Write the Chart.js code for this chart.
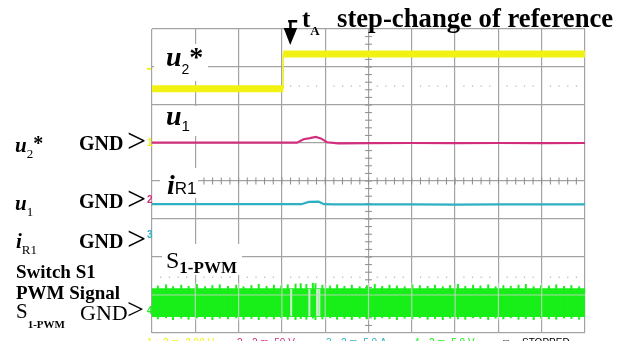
<!DOCTYPE html>
<html>
<head>
<meta charset="utf-8">
<script src="https://cdn.jsdelivr.net/npm/chart.js@4.4.1/dist/chart.umd.min.js"></script>
<style>
  html, body { margin: 0; padding: 0; background: #fff; }
  #wrap { width: 631px; height: 341px; position: relative; }
</style>
</head>
<body>
<div id="wrap"><canvas id="scope" width="631" height="341"></canvas></div>
<script>
// scope screen: 10 x 8 divisions
const divX = 10;
const divY = 8;
const stepTime = 3.03;          // tA, step of the reference
const cursorLevels = [6.5, 1.47];

// u2* (ch1, yellow)
const u2Time = [0, 3.03, 3.03, 10];
const u2Level = [6.43, 6.43, 7.34, 7.34];

// u1 (ch2, magenta)
const u1Time = [0, 1, 2, 3, 3.35, 3.5, 3.65, 3.78, 3.9, 4.04, 4.3, 5, 6, 7, 8, 9, 10];
const u1Level = [5.01, 5.01, 5.01, 5.01, 5.01, 5.1, 5.13, 5.16, 5.12, 5.02, 4.99, 4.995, 5.0, 4.995, 5.0, 4.995, 5.0];

// iR1 (ch3, cyan)
const iR1Time = [0, 1, 2, 3, 3.45, 3.62, 3.85, 3.97, 4.2, 5, 6, 7, 8, 9, 10];
const iR1Level = [3.39, 3.39, 3.39, 3.39, 3.39, 3.45, 3.455, 3.39, 3.385, 3.385, 3.385, 3.38, 3.385, 3.385, 3.385];

// S1-PWM (ch4, green): band edges + noise spikes
const pwmTime = [0, 10];
const pwmHigh = [1.18, 1.18];
const pwmLow = [0.42, 0.42];
const spikeTime = [0.12, 0.31, 0.47, 0.66, 0.83, 1.02, 1.21, 1.38, 1.55, 1.74, 1.93, 2.1, 2.28, 2.45, 2.63, 2.8, 2.97, 3.12, 3.3, 3.42, 3.55, 3.7, 3.76, 3.92, 4.1, 4.26, 4.43, 4.6, 4.78, 4.95, 5.13, 5.3, 5.47, 5.64, 5.82, 6.0, 6.17, 6.35, 6.52, 6.7, 6.87, 7.05, 7.22, 7.4, 7.57, 7.75, 7.92, 8.1, 8.27, 8.45, 8.62, 8.8, 8.97, 9.15, 9.32, 9.5, 9.67, 9.85];
const spikeHigh = [1.24, 1.27, 1.22, 1.26, 1.23, 1.28, 1.22, 1.25, 1.27, 1.23, 1.26, 1.22, 1.25, 1.28, 1.23, 1.26, 1.24, 1.27, 1.29, 1.3, 1.28, 1.31, 1.3, 1.26, 1.24, 1.27, 1.23, 1.26, 1.22, 1.25, 1.28, 1.23, 1.26, 1.24, 1.22, 1.27, 1.25, 1.23, 1.26, 1.22, 1.25, 1.28, 1.23, 1.26, 1.24, 1.27, 1.22, 1.25, 1.23, 1.26, 1.28, 1.22, 1.25, 1.24, 1.27, 1.23, 1.25, 1.22];
const spikeLow = [0.37, 0.4, 0.35, 0.39, 0.36, 0.4, 0.38, 0.35, 0.39, 0.37, 0.4, 0.36, 0.38, 0.35, 0.39, 0.37, 0.4, 0.36, 0.35, 0.38, 0.36, 0.39, 0.35, 0.37, 0.4, 0.36, 0.38, 0.35, 0.39, 0.37, 0.36, 0.4, 0.38, 0.35, 0.39, 0.37, 0.4, 0.36, 0.38, 0.35, 0.39, 0.37, 0.36, 0.4, 0.38, 0.35, 0.39, 0.37, 0.4, 0.36, 0.38, 0.35, 0.39, 0.37, 0.36, 0.4, 0.38, 0.36];
const gapTime = [3.23, 3.65, 3.83, 3.88];

const YEL = '#f2f212', MAG = '#d12f7e', CYA = '#2eb0c2', GRN = '#18ee18';
const SERIF = '"Liberation Serif", "Times New Roman", serif';
const SANS = '"Liberation Sans", Arial, sans-serif';

const pts = (xs, ys) => xs.map((x, i) => ({ x: x, y: ys[i] }));

function rich(ctx, x, y, parts, color) {
  ctx.fillStyle = color || '#000';
  ctx.textBaseline = 'alphabetic';
  ctx.textAlign = 'left';
  parts.forEach(p => {
    ctx.font = p.f;
    ctx.fillText(p.t, x, y + (p.dy || 0));
    x += ctx.measureText(p.t).width + (p.gap || 0);
  });
}

// labels inside the screen (on white boxes)
const screenLabels = [
  { box: [154, 44, 54, 37], x: 166, y: 66, parts: [
    { t: 'u', f: 'bold italic 28px ' + SERIF }, { t: '2', f: '14px ' + SANS, dy: 8 }, { t: '*', f: 'bold 28px ' + SERIF }] },
  { box: [156, 106, 42, 30], x: 166, y: 125, parts: [
    { t: 'u', f: 'bold italic 28px ' + SERIF }, { t: '1', f: '15px ' + SANS, dy: 6 }] },
  { box: [160, 168, 38, 30], x: 167, y: 194, parts: [
    { t: 'i', f: 'bold italic 28px ' + SERIF }, { t: 'R1', f: '17px ' + SANS }] },
  { box: [162, 244, 80, 31], x: 166, y: 268, parts: [
    { t: 'S', f: '24px ' + SERIF }, { t: '1-PWM', f: 'bold 17px ' + SERIF, dy: 5 }] }
];

// labels left of the screen and title
const sideLabels = [
  { x: 15, y: 152, parts: [{ t: 'u', f: 'bold italic 21px ' + SERIF }, { t: '2', f: '13px ' + SERIF, dy: 6 }, { t: '*', f: 'bold 20px ' + SERIF, dy: -2 }] },
  { x: 79, y: 150, parts: [{ t: 'GND ', f: 'bold 20px ' + SERIF }] },
  { x: 15, y: 210, parts: [{ t: 'u', f: 'bold italic 21px ' + SERIF }, { t: '1', f: '13px ' + SERIF, dy: 6 }] },
  { x: 79, y: 208, parts: [{ t: 'GND ', f: 'bold 20px ' + SERIF }] },
  { x: 16, y: 248, parts: [{ t: 'i', f: 'bold italic 21px ' + SERIF }, { t: 'R1', f: '13px ' + SERIF, dy: 6 }] },
  { x: 79, y: 248, parts: [{ t: 'GND ', f: 'bold 20px ' + SERIF }] },
  { x: 16, y: 278, parts: [{ t: 'Switch S1', f: 'bold 19px ' + SERIF }] },
  { x: 16, y: 299, parts: [{ t: 'PWM Signal', f: 'bold 19px ' + SERIF }] },
  { x: 16, y: 318, parts: [{ t: 'S', f: '21px ' + SERIF }, { t: '1-PWM', f: 'bold 11px ' + SERIF, dy: 10 }] },
  { x: 80, y: 320, parts: [{ t: 'GND', f: '22px ' + SERIF }] },
  { x: 337, y: 27, parts: [{ t: 'step-change of reference', f: 'bold 26.7px ' + SERIF }] },
  { x: 302, y: 27, parts: [{ t: 't', f: 'bold 25px ' + SERIF }, { t: 'A', f: 'bold 13px ' + SERIF, dy: 8 }] }
];
const arrows = [[127, 152, 34], [127, 210, 34], [127, 250, 34], [127, 319, 30]];

const statusLine = [
  { x: 147, t: '1', c: YEL }, { x: 163, t: '2 m  2.00 V', c: YEL },
  { x: 237, t: '2', c: MAG }, { x: 252, t: '2 m  50 V', c: MAG },
  { x: 326, t: '3', c: CYA }, { x: 341, t: '2 m  5.0 A', c: CYA },
  { x: 414, t: '4', c: GRN }, { x: 429, t: '2 m  5.0 V', c: GRN },
  { x: 503, t: '\u25a1', c: '#333' }, { x: 522, t: 'STOPPED', c: '#000' }
];
const chMarkers = [{ t: '1', y: 146, c: YEL }, { t: '2', y: 203, c: MAG }, { t: '3', y: 238, c: CYA }, { t: '4', y: 314, c: GRN }];

const scopeDecor = {
  id: 'scopeDecor',
  beforeDatasetsDraw(chart) {
    const { ctx, chartArea: a, scales: { x, y } } = chart;
    ctx.save();
    // minor ticks on the centre axes
    ctx.strokeStyle = '#8c8c8c';
    ctx.lineWidth = 1;
    const cy = y.getPixelForValue(divY / 2), cx = x.getPixelForValue(divX / 2);
    for (let i = 1; i < divX * 5; i++) {
      const px = x.getPixelForValue(i / 5);
      ctx.beginPath(); ctx.moveTo(px, cy - 3.5); ctx.lineTo(px, cy + 3.5); ctx.stroke();
    }
    for (let i = 1; i < divY * 5; i++) {
      const py = y.getPixelForValue(i / 5);
      ctx.beginPath(); ctx.moveTo(cx - 3.5, py); ctx.lineTo(cx + 3.5, py); ctx.stroke();
    }
    // dotted cursor levels
    ctx.fillStyle = '#b0b0b0';
    cursorLevels.forEach(lv => {
      const py = y.getPixelForValue(lv);
      for (let i = 1; i < divX * 5; i++) {
        if (i % 5 === 0) continue;
        ctx.fillRect(x.getPixelForValue(i / 5) - 0.5, py - 0.5, 1.2, 1.2);
      }
    });
    // screen labels
    screenLabels.forEach(l => {
      ctx.fillStyle = '#fff';
      ctx.fillRect(l.box[0], l.box[1], l.box[2], l.box[3]);
      rich(ctx, l.x, l.y, l.parts);
    });
    ctx.restore();
  },
  afterDatasetsDraw(chart) {
    // graticule shows through the PWM band
    const { ctx, chartArea: a, scales: { x, y } } = chart;
    ctx.save();
    const top = y.getPixelForValue(1.32), bot = y.getPixelForValue(0.32);
    ctx.beginPath(); ctx.rect(a.left, top, a.right - a.left, bot - top); ctx.clip();
    ctx.strokeStyle = 'rgba(200,215,200,0.85)';
    ctx.lineWidth = 1.2;
    for (let i = 1; i < divX; i++) {
      const px = x.getPixelForValue(i);
      ctx.beginPath(); ctx.moveTo(px, top); ctx.lineTo(px, bot); ctx.stroke();
    }
    const py = y.getPixelForValue(1);
    ctx.beginPath(); ctx.moveTo(a.left, py); ctx.lineTo(a.right, py); ctx.stroke();
    ctx.restore();
  },
  afterDraw(chart) {
    const { ctx, chartArea: a, scales: { x, y } } = chart;
    ctx.save();
    sideLabels.forEach(l => rich(ctx, l.x, l.y, l.parts));
    ctx.fillStyle = '#000';
    arrows.forEach(r => { ctx.font = r[2] + 'px ' + SERIF; ctx.fillText('>', r[0], r[1]); });
    // tA marker arrow
    const ax = x.getPixelForValue(stepTime) + 7;
    ctx.fillRect(ax - 1, 20, 2.5, 10);
    ctx.fillRect(ax - 2, 20, 9, 2.5);
    ctx.beginPath(); ctx.moveTo(ax - 6.5, 28); ctx.lineTo(ax + 7, 28); ctx.lineTo(ax, 45); ctx.closePath(); ctx.fill();
    // channel ground markers
    ctx.font = 'bold 10px ' + SANS;
    chMarkers.forEach(m => { ctx.fillStyle = m.c; ctx.fillText(m.t, a.left - 5, m.y); });
    ctx.fillStyle = YEL;
    ctx.fillRect(a.left - 5, y.getPixelForValue(6.95) - 1, 4, 2);
    // status line (cut by window bottom)
    ctx.font = '10px ' + SANS;
    statusLine.forEach(s => { ctx.fillStyle = s.c; ctx.fillText(s.t, s.x, 346); });
    ctx.restore();
  }
};

new Chart(document.getElementById('scope').getContext('2d'), {
  type: 'line',
  data: {
    datasets: [
      { label: 'u2*', data: pts(u2Time, u2Level), borderColor: YEL, borderWidth: 7, pointRadius: 0, order: 1,
        segment: { borderWidth: c => (c.p0.parsed.x === c.p1.parsed.x ? 1.5 : 7) } },
      { label: 'u1', data: pts(u1Time, u1Level), borderColor: MAG, borderWidth: 2.2, pointRadius: 0, order: 2 },
      { label: 'iR1', data: pts(iR1Time, iR1Level), borderColor: CYA, borderWidth: 2.2, pointRadius: 0, order: 3 },
      { label: 'pwmLow', data: pts(pwmTime, pwmLow), borderColor: GRN, borderWidth: 0, pointRadius: 0, order: 6 },
      { label: 'S1-PWM', data: pts(pwmTime, pwmHigh), borderColor: GRN, borderWidth: 0, pointRadius: 0,
        backgroundColor: GRN, fill: '-1', order: 5 },
      { type: 'bar', label: 'spikes', data: spikeTime.map((t, i) => ({ x: t, y: [spikeLow[i], spikeHigh[i]] })),
        backgroundColor: GRN, barThickness: 1.3, order: 4 },
      { type: 'bar', label: 'gaps', data: gapTime.map(t => ({ x: t, y: [0.45, 1.15] })),
        backgroundColor: 'rgba(225,235,225,0.9)', barThickness: 1.4, order: 0 }
    ]
  },
  options: {
    responsive: false,
    animation: false,
    events: [],
    layout: { padding: { left: 152, right: 46, top: 29, bottom: 8 } },
    plugins: { legend: { display: false }, tooltip: { enabled: false } },
    scales: {
      x: { type: 'linear', min: 0, max: divX, offset: false,
        ticks: { display: false, stepSize: 1 }, border: { display: false },
        grid: { color: '#a3a3a3', lineWidth: 1.2, drawTicks: false, offset: false } },
      y: { type: 'linear', min: 0, max: divY,
        ticks: { display: false, stepSize: 1 }, border: { display: false },
        grid: { color: '#a3a3a3', lineWidth: 1.2, drawTicks: false } }
    }
  },
  plugins: [scopeDecor]
});
</script>
</body>
</html>
